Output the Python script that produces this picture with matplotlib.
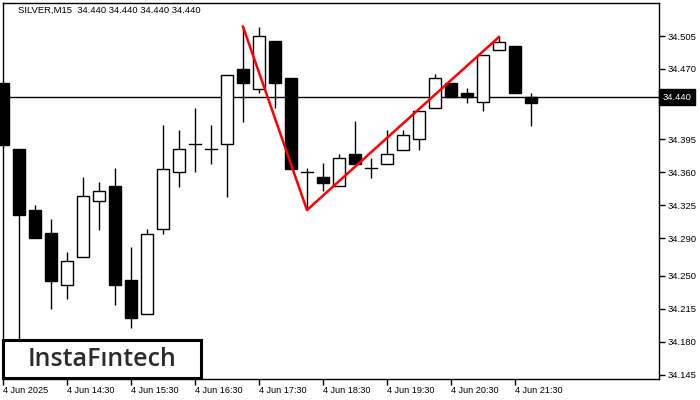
import matplotlib
matplotlib.use("Agg")
import matplotlib.pyplot as plt
import matplotlib.transforms as mtransforms
from matplotlib.patches import Rectangle

# SILVER M15 candles, 4 Jun 2025 from 13:30
opens = [34.455, 34.385, 34.320, 34.296, 34.240, 34.270, 34.330, 34.346, 34.246, 34.210,
         34.300, 34.360, 34.390, 34.385, 34.390, 34.470, 34.449, 34.500, 34.460, 34.360,
         34.355, 34.346, 34.380, 34.365, 34.369, 34.384, 34.395, 34.429, 34.455, 34.444,
         34.435, 34.490, 34.494, 34.440]
highs = [34.455, 34.385, 34.325, 34.311, 34.275, 34.355, 34.350, 34.365, 34.281, 34.300,
         34.410, 34.405, 34.429, 34.410, 34.464, 34.515, 34.515, 34.500, 34.460, 34.365,
         34.370, 34.380, 34.415, 34.375, 34.405, 34.405, 34.425, 34.465, 34.455, 34.450,
         34.485, 34.504, 34.494, 34.444]
lows = [34.389, 34.160, 34.290, 34.215, 34.225, 34.270, 34.299, 34.219, 34.195, 34.210,
        34.295, 34.345, 34.360, 34.369, 34.334, 34.414, 34.444, 34.429, 34.364, 34.320,
        34.340, 34.346, 34.369, 34.354, 34.369, 34.384, 34.384, 34.429, 34.440, 34.434,
        34.425, 34.490, 34.444, 34.409]
closes = [34.389, 34.315, 34.290, 34.245, 34.266, 34.335, 34.340, 34.240, 34.205, 34.295,
          34.364, 34.385, 34.390, 34.385, 34.464, 34.455, 34.505, 34.455, 34.364, 34.360,
          34.349, 34.375, 34.369, 34.365, 34.380, 34.400, 34.425, 34.460, 34.440, 34.440,
          34.485, 34.499, 34.444, 34.434]

# double top pattern line: (candle index, price)
pattern_idx = [15, 19, 31]
pattern_price = [34.515, 34.320, 34.504]

last_price = 34.440
price_ticks = [34.145, 34.180, 34.215, 34.250, 34.290, 34.325, 34.360, 34.395, 34.435, 34.470, 34.505]
# 34.435 sits under the current-price box, so its label is left blank
price_labels = ["34.145", "34.180", "34.215", "34.250", "34.290", "34.325", "34.360", "34.395",
                "", "34.470", "34.505"]
time_tick_idx = [0, 4, 8, 12, 16, 20, 24, 28, 32]
time_labels = ["4 Jun 2025", "4 Jun 14:30", "4 Jun 15:30", "4 Jun 16:30", "4 Jun 17:30",
               "4 Jun 18:30", "4 Jun 19:30", "4 Jun 20:30", "4 Jun 21:30"]

W, H = 700, 400
fig = plt.figure(figsize=(7, 4), dpi=100)
ax = fig.add_axes([3 / W, (H - 379) / H, 656 / W, 376 / H])
ax.set_xlim(0, 41)
ax.set_ylim(34.1404, 34.5401)

body_w = 0.69
for i, (o, h, l, c) in enumerate(zip(opens, highs, lows, closes)):
    ax.plot([i, i], [l, h], color="black", lw=1.0, solid_capstyle="butt", zorder=2, clip_on=False)
    bottom = min(o, c)
    height = abs(c - o)
    face = "white" if c > o else "black"
    if height < 0.0008:
        ax.plot([i - body_w / 2, i + body_w / 2], [o, o], color="black", lw=1.0, zorder=3,
                clip_on=False)
    else:
        ax.add_patch(Rectangle((i - body_w / 2, bottom), body_w, height, facecolor=face,
                               edgecolor="black", lw=1.0, zorder=3, clip_on=False))

ax.axhline(last_price, color="black", lw=1.0, zorder=1)
ax.plot(pattern_idx, pattern_price, color="#ff0000", lw=1.8, zorder=4)

# axes styling like MT4
for side in ["left", "top", "right", "bottom"]:
    ax.spines[side].set_linewidth(1.0)
ax.yaxis.tick_right()
ax.set_yticks(price_ticks)
ax.set_yticklabels(price_labels)
ax.set_xticks(time_tick_idx)
ax.set_xticklabels(time_labels, ha="left")
ax.tick_params(axis="y", direction="out", length=4, width=1, pad=2,
               labelsize=6.8, labelcolor="black")
ax.tick_params(axis="x", direction="out", length=4, width=1, pad=1,
               labelsize=6.6, labelcolor="black")
for lab in ax.get_xticklabels() + ax.get_yticklabels():
    lab.set_fontfamily("Liberation Sans")

# current price box on the axis
trans = mtransforms.blended_transform_factory(ax.transAxes, ax.transData)
ax.text(1.006, last_price, f"{last_price:.3f}", transform=trans, ha="left", va="center",
        fontsize=6.8, color="white", family="Liberation Sans", zorder=10,
        bbox=dict(facecolor="black", edgecolor="black", pad=2.6))

fig.text(18 / W, 1 - 10.5 / H, "SILVER,M15  34.440 34.440 34.440 34.440", ha="left",
         va="center", fontsize=6.8, family="Liberation Sans", color="black")

# logo box
fig.add_artist(Rectangle((3 / W, (H - 378) / H), 198 / W, 38 / H, transform=fig.transFigure,
                         facecolor="white", edgecolor="black", lw=2.2, zorder=5))
fig.text(102 / W, 1 - 359 / H, "InstaF\u0131ntech", ha="center", va="center", fontsize=18,
         family="Open Sans", weight="semibold", color="#2b2b2b", zorder=6)

fig.savefig("out.png", dpi=100)
